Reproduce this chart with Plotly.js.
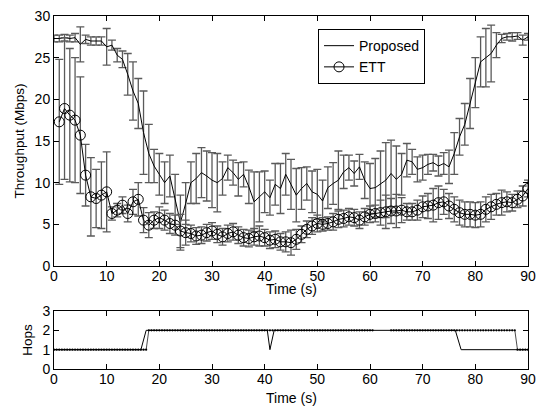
<!DOCTYPE html>
<html>
<head>
<meta charset="utf-8">
<script src="https://cdn.plot.ly/plotly-3.0.1.min.js"></script>
<style>html,body{margin:0;padding:0;background:#fff;}#chart{width:537px;height:407px;}</style>
</head>
<body>
<div id="chart"></div>
<script>
// Throughput, Proposed: t = 0..90 s
const proposedMean = [27.3,27.3,27.4,27.3,27.4,26.6,27.2,27.0,27.0,27.0,
 26.3,26.5,25.3,24.8,23.0,21.0,19.5,16.0,13.5,12.0,
 11.0,10.0,10.8,8.0,5.2,7.5,10.0,10.5,11.2,10.8,
 10.3,10.0,10.5,11.8,11.2,10.4,11.0,9.5,7.7,8.3,
 8.9,8.2,9.8,9.3,11.0,9.8,8.5,9.3,9.9,8.9,
 8.6,7.8,9.4,9.9,10.3,11.3,11.8,11.1,11.9,10.3,
 9.3,9.4,9.8,10.3,11.1,10.4,11.0,12.7,12.5,11.6,
 11.8,12.2,12.4,12.0,12.3,11.9,13.5,15.5,17.0,19.5,
 22.0,24.5,25.0,25.5,26.5,27.3,27.5,27.5,27.6,27.1,
 27.5];
const proposedErr = [0.4,0.4,0.4,0.4,0.5,2.1,0.5,0.5,0.5,0.5,
 2.2,0.6,0.8,1.0,2.5,3.5,3.0,5.0,3.5,2.0,
 2.5,2.5,2.5,3.0,3.3,2.5,2.5,3.0,3.0,3.0,
 3.3,3.5,2.0,1.5,1.5,2.0,1.5,2.0,3.6,3.0,
 2.5,2.1,2.5,3.0,2.5,3.0,3.2,2.5,2.0,2.5,
 3.0,2.5,2.5,2.5,3.5,2.0,1.5,1.5,1.5,2.2,
 3.0,3.5,4.0,4.5,4.0,4.0,2.5,2.0,1.5,1.5,
 1.5,1.2,1.0,1.2,1.3,2.0,2.5,2.2,2.5,3.0,
 3.0,3.0,3.5,3.4,1.5,0.5,0.4,0.5,0.4,0.6,
 0.4];
// Throughput, ETT: t = 1..90 s
const ettMean = [17.3,18.9,18.1,17.5,15.7,10.9,8.3,8.1,8.5,8.9,
 6.3,6.7,7.3,6.3,7.7,8.0,5.5,4.9,5.5,5.8,
 5.5,5.1,4.9,4.2,4.0,3.9,3.6,3.7,4.0,4.2,
 3.8,3.5,3.9,4.1,3.7,3.4,3.3,3.5,3.6,3.4,
 3.1,3.2,2.9,2.9,2.8,3.2,3.8,4.4,4.8,5.1,
 5.0,5.1,5.3,5.6,5.7,5.9,5.8,5.5,5.9,6.2,
 6.3,6.4,6.5,6.6,6.6,6.7,6.5,6.5,6.7,7.1,
 7.2,7.3,7.6,7.7,7.2,6.8,6.4,6.2,6.2,6.1,
 6.2,6.8,7.1,7.4,7.6,7.7,7.6,8.0,8.4,9.3];
const ettErr = [7.5,8.5,8.0,7.5,7.0,3.7,4.7,3.5,4.0,4.8,
 0.8,0.8,1.0,1.0,1.5,2.0,1.5,1.5,1.0,1.3,
 1.2,1.2,1.2,2.0,1.5,1.0,1.0,1.0,1.0,1.0,
 1.0,1.0,1.0,1.0,1.0,1.0,1.0,1.0,1.2,1.0,
 1.0,1.0,1.0,1.2,1.5,1.2,1.0,1.0,1.0,1.0,
 0.8,0.8,1.0,1.0,1.0,1.0,1.0,1.0,1.0,1.0,
 1.0,1.5,2.0,1.5,2.0,1.5,1.0,1.0,1.2,1.3,
 1.5,2.0,2.0,1.5,1.5,1.5,1.5,1.5,1.5,1.5,
 1.5,1.5,1.5,1.3,1.5,1.2,1.0,1.0,1.2,1.0];
// Hops, Proposed: breakpoints (s) and hop counts
const proposedHopT = [0, 16.5, 17.5, 40.5, 41, 41.8, 76.2, 77.3, 90];
const proposedHopV = [1, 1, 2, 2, 1, 2, 2, 1, 1];
// Hops, ETT: one sample every 0.5 s from 0 to 90 ('-' = no sample)
const ettHopSamples =
 "111111111111111111111111111111111111" +
 "22222222222222222222222222222222222222222222222222222222222222222222222222222222222222" +
 "------" +
 "222222222222222222222222222222222222222222222222" +
 "11111";

const proposedT = proposedMean.map((_, i) => i);
const ettT = ettMean.map((_, i) => i + 1);
const ettHopT = ettHopSamples.split('').map((_, i) => i * 0.5);
const ettHopV = ettHopSamples.split('').map(c => c === '-' ? null : Number(c));

const FONT = 'Liberation Sans, Arial, Helvetica, sans-serif';
const barColor = '#5a5a5a';

const traces = [
  {x: proposedT, y: proposedMean, type: 'scatter', mode: 'lines', name: 'Proposed',
   line: {color: '#000', width: 1},
   error_y: {type: 'data', array: proposedErr, visible: true, color: barColor, thickness: 1.3, width: 4},
   xaxis: 'x', yaxis: 'y'},
  {x: ettT, y: ettMean, type: 'scatter', mode: 'lines+markers', name: 'ETT',
   line: {color: '#000', width: 1},
   marker: {symbol: 'circle-open', size: 10, color: '#000', line: {width: 1}},
   error_y: {type: 'data', array: ettErr, visible: true, color: barColor, thickness: 1.3, width: 4},
   xaxis: 'x', yaxis: 'y'},
  {x: proposedHopT, y: proposedHopV, type: 'scatter', mode: 'lines', showlegend: false,
   line: {color: '#000', width: 1}, xaxis: 'x2', yaxis: 'y2'},
  {x: ettHopT, y: ettHopV, type: 'scatter', mode: 'lines+markers', showlegend: false,
   line: {color: '#000', width: 0.7}, connectgaps: false,
   marker: {symbol: 'circle', size: 2.2, color: '#000'}, xaxis: 'x2', yaxis: 'y2'}
];

const axisCommon = {
  showline: true, linecolor: '#000', linewidth: 1, mirror: 'ticks',
  ticks: 'inside', ticklen: 5, tickcolor: '#000', tickwidth: 1,
  showgrid: false, zeroline: false,
  tickfont: {family: FONT, size: 14, color: '#000'}
};
const xTicks = {ticklabelstandoff: -3, tickvals: [0,10,20,30,40,50,60,70,80,90]};

const layout = {
  width: 537, height: 407,
  margin: {l: 54, r: 9, t: 16, b: 38},
  paper_bgcolor: '#fff', plot_bgcolor: '#fff',
  font: {family: FONT, size: 14, color: '#000'},
  showlegend: true,
  legend: {x: 0.557, y: 0.963, xanchor: 'left', yanchor: 'top',
           bordercolor: '#000', borderwidth: 1, bgcolor: '#fff',
           tracegroupgap: 0,
           font: {family: FONT, size: 14, color: '#000'}},
  xaxis: Object.assign({}, axisCommon, xTicks, {domain: [0, 1], anchor: 'y', range: [0, 90]}),
  yaxis: Object.assign({}, axisCommon, {domain: [0.2918, 1], anchor: 'x', range: [0, 30],
           tickvals: [0,5,10,15,20,25,30],
           title: {text: 'Throughput (Mbps)', standoff: 6, font: {family: FONT, size: 13.5}}}),
  xaxis2: Object.assign({}, axisCommon, xTicks, {domain: [0, 1], anchor: 'y2', range: [0, 90]}),
  yaxis2: Object.assign({}, axisCommon, {domain: [0, 0.1643], anchor: 'x2', range: [0, 3],
           tickvals: [0,1,2,3],
           title: {text: 'Hops', standoff: 6, font: {family: FONT, size: 13.5}}}),
  annotations: [
    {text: 'Time (s)', xref: 'paper', yref: 'paper', x: 0.5, y: 0.2266,
     xanchor: 'center', yanchor: 'middle', showarrow: false, font: {family: FONT, size: 14, color: '#000'}},
    {text: 'Time (s)', xref: 'paper', yref: 'paper', x: 0.5, y: -0.0822,
     xanchor: 'center', yanchor: 'middle', showarrow: false, font: {family: FONT, size: 14, color: '#000'}}
  ]
};

Plotly.newPlot('chart', traces, layout, {displayModeBar: false, staticPlot: true});
</script>
</body>
</html>
